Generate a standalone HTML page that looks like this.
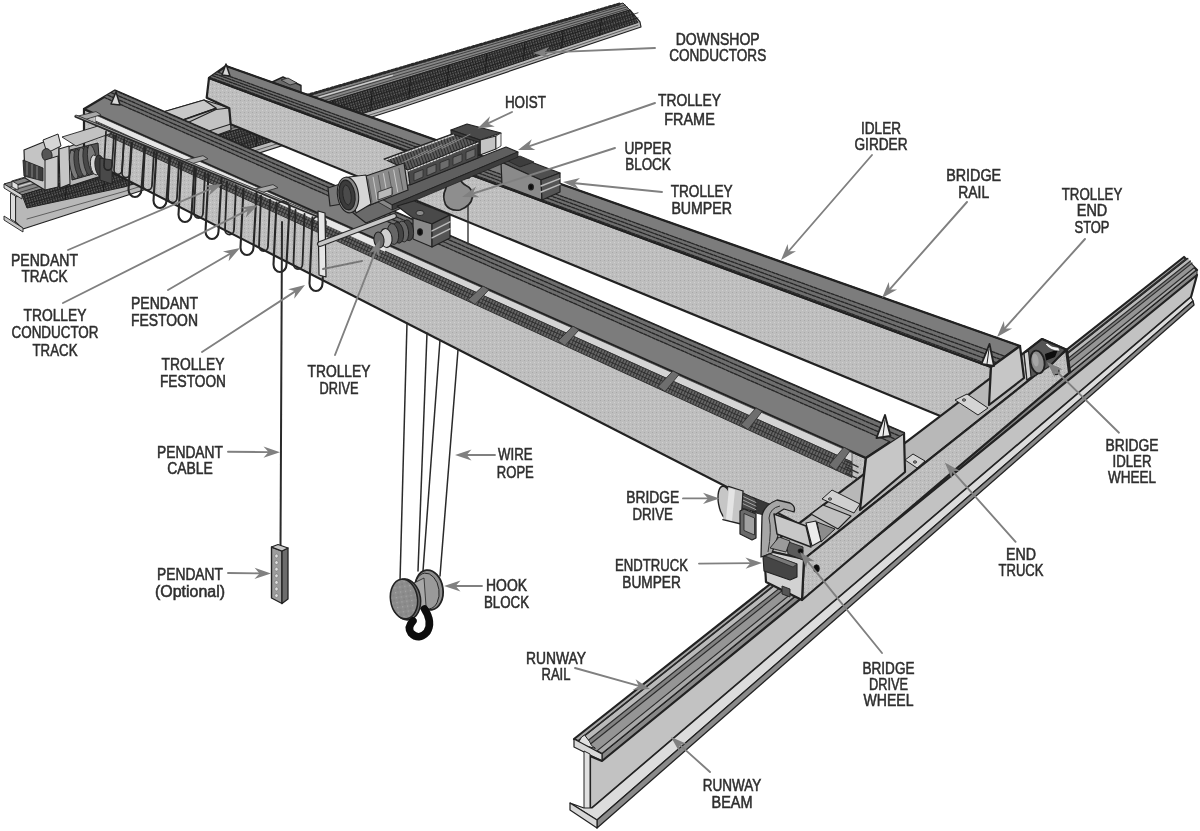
<!DOCTYPE html>
<html><head><meta charset="utf-8"><title>Overhead crane components</title>
<style>
html,body{margin:0;padding:0;background:#fff;}
svg{display:block}
text{font-family:"Liberation Sans",sans-serif;font-size:16.5px;fill:#2e2e2e;stroke:#2e2e2e;stroke-width:0.55px;text-anchor:middle;}
</style></head><body>
<svg width="1200" height="831" viewBox="0 0 1200 831">
<defs>
<pattern id="stip" width="4" height="4" patternUnits="userSpaceOnUse">
<rect width="4" height="4" fill="#bebebe"/><rect x="0" y="0" width="1" height="1" fill="#a8a8a8"/><rect x="2" y="2" width="1" height="1" fill="#d0d0d0"/>
</pattern>
<pattern id="hatch" width="3" height="3" patternUnits="userSpaceOnUse" patternTransform="rotate(25)">
<rect width="3" height="3" fill="#6a6a6a"/><rect x="0" y="0" width="1.2" height="3" fill="#333"/>
</pattern>
<pattern id="hatch2" width="3" height="3" patternUnits="userSpaceOnUse" patternTransform="rotate(-20)">
<rect width="3" height="3" fill="#5c5c5c"/><rect x="0" y="0" width="1" height="3" fill="#2c2c2c"/>
</pattern>
<pattern id="hatch3" width="2.6" height="2.6" patternUnits="userSpaceOnUse" patternTransform="rotate(-16)">
<rect width="2.6" height="2.6" fill="#5e5e5e"/><rect x="0" y="0" width="1.2" height="2.6" fill="#1e1e1e"/><rect x="0" y="0" width="2.6" height="0.9" fill="#2a2a2a"/>
</pattern>
<pattern id="stipd" width="5" height="5" patternUnits="userSpaceOnUse">
<rect width="5" height="5" fill="#8c8c8c"/><rect x="1" y="1" width="1.2" height="1.2" fill="#a8a8a8"/><rect x="3.5" y="3.5" width="1.2" height="1.2" fill="#7a7a7a"/>
</pattern>
<filter id="soft" x="-2%" y="-2%" width="104%" height="104%"><feGaussianBlur stdDeviation="0.75"/></filter>
</defs>
<rect width="1200" height="831" fill="#fff"/>
<g filter="url(#soft)">
<polygon points="22.0,195.0 630.0,10.0 640.0,22.0 641.0,27.0 400.0,108.0 128.0,195.0 23.0,229.0 15.5,222.0 15.5,197.0" fill="#b8b8b8" stroke="#222" stroke-width="1.2" stroke-linejoin="round" />
<polygon points="4.0,184.0 623.0,3.0 630.0,10.0 22.0,195.0" fill="#868686" stroke="#222" stroke-width="1" stroke-linejoin="round" />
<line x1="282.6" y1="102.5" x2="619.9" y2="3.9" stroke="#2a2a2a" stroke-width="3" stroke-linecap="round" stroke-dasharray="2 2.2" stroke-linecap="butt"/>
<line x1="9.4" y1="187.3" x2="625.1" y2="5.1" stroke="#3a3a3a" stroke-width="0.9" stroke-linecap="round" />
<line x1="13.9" y1="190.1" x2="626.9" y2="6.9" stroke="#3a3a3a" stroke-width="0.9" stroke-linecap="round" />
<line x1="18.4" y1="192.8" x2="628.6" y2="8.6" stroke="#3a3a3a" stroke-width="0.9" stroke-linecap="round" />
<line x1="11.6" y1="188.6" x2="392.5" y2="75.4" stroke="#d0d0d0" stroke-width="1.2" stroke-linecap="round" />
<polygon points="22.0,195.0 630.0,10.0 638.0,22.5 400.0,102.0 124.0,187.0 27.0,208.0" fill="url(#hatch3)" stroke="#222" stroke-width="1" stroke-linejoin="round" />
<polyline points="27.0,198.6 42.3,194.4 57.5,190.2 72.8,186.0 88.1,181.8 103.4,177.7 118.6,173.5 133.9,169.0 149.2,164.3 164.5,159.7 179.8,155.0 195.0,150.3 210.3,145.7 225.6,141.0 240.8,136.3 256.1,131.7 271.4,127.0 286.7,122.3 301.9,117.7 317.2,113.0 332.5,108.3 347.8,103.6 363.1,99.0 378.3,94.3 393.6,89.6 408.9,84.9 424.2,80.1 439.4,75.3 454.7,70.5 470.0,65.7 485.2,60.9 500.5,56.1 515.8,51.2 531.1,46.4 546.4,41.6 561.6,36.8 576.9,32.0 592.2,27.2 607.4,22.4 622.7,17.6 638.0,12.8" fill="none" stroke="#222" stroke-width="0.8" stroke-linejoin="round" stroke-linecap="round" />
<polyline points="27.0,203.6 42.3,199.9 57.5,196.2 72.8,192.5 88.1,188.8 103.4,185.1 118.6,181.4 133.9,177.0 149.2,172.4 164.5,167.7 179.8,163.0 195.0,158.3 210.3,153.6 225.6,148.9 240.8,144.2 256.1,139.5 271.4,134.9 286.7,130.2 301.9,125.5 317.2,120.8 332.5,116.1 347.8,111.4 363.1,106.7 378.3,102.0 393.6,97.4 408.9,92.5 424.2,87.5 439.4,82.6 454.7,77.6 470.0,72.6 485.2,67.7 500.5,62.7 515.8,57.7 531.1,52.8 546.4,47.8 561.6,42.8 576.9,37.9 592.2,32.9 607.4,28.0 622.7,23.0 638.0,18.0" fill="none" stroke="#222" stroke-width="0.8" stroke-linejoin="round" stroke-linecap="round" />
<line x1="66.7" y1="181.9" x2="65.2" y2="199.7" stroke="#1c1c1c" stroke-width="1.0" stroke-linecap="round" />
<line x1="104.9" y1="170.2" x2="103.4" y2="191.5" stroke="#1c1c1c" stroke-width="1.0" stroke-linecap="round" />
<line x1="143.1" y1="158.6" x2="141.6" y2="181.6" stroke="#1c1c1c" stroke-width="1.0" stroke-linecap="round" />
<line x1="181.2" y1="147.0" x2="179.8" y2="169.8" stroke="#1c1c1c" stroke-width="1.0" stroke-linecap="round" />
<line x1="219.4" y1="135.4" x2="217.9" y2="158.1" stroke="#1c1c1c" stroke-width="1.0" stroke-linecap="round" />
<line x1="257.6" y1="123.8" x2="256.1" y2="146.3" stroke="#1c1c1c" stroke-width="1.0" stroke-linecap="round" />
<line x1="295.8" y1="112.1" x2="294.3" y2="134.5" stroke="#1c1c1c" stroke-width="1.0" stroke-linecap="round" />
<line x1="334.0" y1="100.5" x2="332.5" y2="122.8" stroke="#1c1c1c" stroke-width="1.0" stroke-linecap="round" />
<line x1="372.2" y1="88.9" x2="370.7" y2="111.0" stroke="#1c1c1c" stroke-width="1.0" stroke-linecap="round" />
<line x1="410.4" y1="77.3" x2="408.9" y2="99.0" stroke="#1c1c1c" stroke-width="1.0" stroke-linecap="round" />
<line x1="448.6" y1="65.7" x2="447.1" y2="86.3" stroke="#1c1c1c" stroke-width="1.0" stroke-linecap="round" />
<line x1="486.8" y1="54.0" x2="485.2" y2="73.5" stroke="#1c1c1c" stroke-width="1.0" stroke-linecap="round" />
<line x1="524.9" y1="42.4" x2="523.4" y2="60.8" stroke="#1c1c1c" stroke-width="1.0" stroke-linecap="round" />
<line x1="563.1" y1="30.8" x2="561.6" y2="48.0" stroke="#1c1c1c" stroke-width="1.0" stroke-linecap="round" />
<line x1="601.3" y1="19.2" x2="599.8" y2="35.3" stroke="#1c1c1c" stroke-width="1.0" stroke-linecap="round" />
<polyline points="27.0,219.0 124.0,191.5 400.0,105.5 638.0,25.2" fill="none" stroke="#555" stroke-width="0.9" stroke-linejoin="round" stroke-linecap="round" />
<polygon points="4.0,184.0 22.0,195.0 22.0,199.0 4.0,188.0" fill="#d4d4d4" stroke="#222" stroke-width="0.9" stroke-linejoin="round" />
<polygon points="10.5,193.0 15.5,196.0 15.5,222.0 10.5,219.0" fill="#dcdcdc" stroke="#222" stroke-width="0.9" stroke-linejoin="round" />
<polygon points="4.0,216.0 23.0,228.0 23.0,232.0 4.0,220.0" fill="#c8c8c8" stroke="#222" stroke-width="0.9" stroke-linejoin="round" />
<polygon points="12.0,181.0 18.0,184.5 18.0,190.0 12.0,187.0" fill="#e0e0e0" stroke="#222" stroke-width="0.8" stroke-linejoin="round" />
<line x1="12.0" y1="181.0" x2="30.0" y2="175.5" stroke="#222" stroke-width="0.9" stroke-linecap="round" />
<line x1="18.0" y1="184.5" x2="36.0" y2="179.0" stroke="#222" stroke-width="0.9" stroke-linecap="round" />
<polygon points="60.0,150.0 163.0,112.0 204.0,100.0 230.0,108.0 231.0,130.0 120.0,170.0 70.0,186.0" fill="#b9b9b9" stroke="#222" stroke-width="1.3" stroke-linejoin="round" />
<polygon points="163.0,112.0 204.0,100.0 216.0,108.0 180.0,121.0" fill="#c8c8c8" stroke="#222" stroke-width="1.2" stroke-linejoin="round" />
<polygon points="187.0,123.0 216.0,109.5 229.0,108.0 231.0,124.0 209.0,131.0" fill="#c2c2c2" stroke="#222" stroke-width="1.2" stroke-linejoin="round" />
<line x1="180.0" y1="121.0" x2="216.0" y2="108.5" stroke="#222" stroke-width="1.6" stroke-linecap="round" />
<polygon points="209.0,78.0 991.0,367.0 989.0,405.0 960.0,424.0 933.0,413.0 230.7,124.3 229.3,108.3 206.7,97.7" fill="url(#stip)" stroke="#222" stroke-width="2.2" stroke-linejoin="round" />
<polygon points="84.0,109.0 866.0,458.0 859.0,510.0 822.0,535.7 84.0,158.1" fill="url(#stip)" stroke="#222" stroke-width="2.2" stroke-linejoin="round" />
<polygon points="574.0,739.0 602.0,754.0 1197.0,270.0 1184.0,257.0" fill="#a8a8a8" stroke="#222" stroke-width="2.2" stroke-linejoin="round" />
<polygon points="602.0,754.0 602.0,761.0 1197.0,275.0 1197.0,270.0" fill="#888" stroke="#222" stroke-width="1" stroke-linejoin="round" />
<polygon points="577.6,741.0 1185.7,258.7 1194.5,267.5 596.7,751.1" fill="#959595" stroke="none" stroke-width="0" stroke-linejoin="round" />
<polygon points="581.6,738.0 1187.5,258.5 1192.1,263.1 591.4,743.3" fill="#828282" stroke="none" stroke-width="0" stroke-linejoin="round" />
<polygon points="582.4,737.5 1187.9,258.4 1190.5,261.0 588.0,740.5" fill="#bababa" stroke="none" stroke-width="0" stroke-linejoin="round" />
<line x1="577.6" y1="741.0" x2="1185.7" y2="258.7" stroke="#2c2c2c" stroke-width="1.2" stroke-linecap="round" />
<line x1="581.6" y1="738.0" x2="1187.5" y2="258.5" stroke="#2c2c2c" stroke-width="1.2" stroke-linecap="round" />
<line x1="582.4" y1="737.5" x2="1187.9" y2="258.4" stroke="#2c2c2c" stroke-width="1.2" stroke-linecap="round" />
<line x1="588.0" y1="740.5" x2="1190.5" y2="261.0" stroke="#2c2c2c" stroke-width="1.2" stroke-linecap="round" />
<line x1="591.4" y1="743.3" x2="1192.1" y2="263.1" stroke="#2c2c2c" stroke-width="1.2" stroke-linecap="round" />
<line x1="596.7" y1="751.1" x2="1194.5" y2="267.5" stroke="#2c2c2c" stroke-width="1.2" stroke-linecap="round" />
<polygon points="581.6,737.0 584.6,735.0 589.4,741.3 591.4,745.3 595.4,748.3 577.6,744.0" fill="#e2e2e2" stroke="#222" stroke-width="1" stroke-linejoin="round" />
<polygon points="574.0,739.0 602.0,754.0 602.0,761.0 574.0,747.0" fill="#d8d8d8" stroke="#222" stroke-width="1.2" stroke-linejoin="round" />
<polygon points="590.0,756.0 602.0,761.0 1197.0,275.0 1191.0,297.0 592.0,808.0 590.0,808.0" fill="#c2c2c2" stroke="#222" stroke-width="2.2" stroke-linejoin="round" />
<polygon points="584.0,751.0 590.0,754.0 590.0,812.0 584.0,808.0" fill="#e0e0e0" stroke="#222" stroke-width="1" stroke-linejoin="round" />
<polygon points="570.0,803.0 584.0,808.0 592.0,808.0 1191.0,297.0 1193.0,301.0 597.0,820.0" fill="#dcdcdc" stroke="#222" stroke-width="1.2" stroke-linejoin="round" />
<polygon points="597.0,820.0 1193.0,301.0 1194.0,305.0 597.0,828.0" fill="#8a8a8a" stroke="#222" stroke-width="1.3" stroke-linejoin="round" />
<polygon points="570.0,803.0 597.0,820.0 597.0,828.0 570.0,810.0" fill="#d8d8d8" stroke="#222" stroke-width="1.2" stroke-linejoin="round" />
<polygon points="764.0,550.0 804.0,559.0 1067.0,350.0 1042.0,339.0" fill="#b8b8b8" stroke="#222" stroke-width="2.2" stroke-linejoin="round" />
<polygon points="804.0,559.0 1067.0,350.0 1070.0,372.0 802.0,600.0" fill="url(#stip)" stroke="#222" stroke-width="2.2" stroke-linejoin="round" />
<polygon points="764.0,550.0 804.0,559.0 802.0,600.0 766.0,582.0" fill="#d2d2d2" stroke="#222" stroke-width="2.2" stroke-linejoin="round" />
<polygon points="955.0,400.0 967.0,394.0 988.0,408.0 978.0,415.0" fill="#d4d4d4" stroke="#222" stroke-width="1" stroke-linejoin="round" />
<ellipse cx="964" cy="400" rx="1.6" ry="1.2" fill="#999" stroke="#222" stroke-width="0.8" transform="rotate(0 964 400)"/>
<polygon points="822.0,499.0 832.0,490.0 860.0,504.0 854.0,513.0" fill="#d0d0d0" stroke="#222" stroke-width="1" stroke-linejoin="round" />
<ellipse cx="830" cy="499" rx="1.6" ry="1.2" fill="#999" stroke="#222" stroke-width="0.8" transform="rotate(0 830 499)"/>
<polygon points="905.0,460.0 913.0,454.0 925.0,461.0 917.0,468.0" fill="#d4d4d4" stroke="#222" stroke-width="1" stroke-linejoin="round" />
<ellipse cx="915" cy="462" rx="1.6" ry="1.2" fill="#999" stroke="#222" stroke-width="0.8" transform="rotate(0 915 462)"/>
<polygon points="1024.0,353.0 1042.0,339.0 1066.0,349.5 1050.0,366.0 1036.0,375.0 1027.0,380.0" fill="#555" stroke="#222" stroke-width="1.2" stroke-linejoin="round" />
<polygon points="1024.0,353.0 1028.5,351.0 1031.0,377.0 1027.0,380.0" fill="#d4d4d4" stroke="#222" stroke-width="1.1" stroke-linejoin="round" />
<ellipse cx="1037.5" cy="362" rx="7" ry="11.5" fill="#8e8e8e" stroke="#222" stroke-width="1.9" transform="rotate(-10 1037.5 362)"/>
<ellipse cx="1035.5" cy="360" rx="3" ry="6.5" fill="#a6a6a6" stroke="none" stroke-width="0" transform="rotate(-10 1035.5 360)"/>
<polygon points="1045.0,354.0 1058.0,349.5 1055.0,357.0 1046.0,360.5" fill="#080808" stroke="none" stroke-width="0" stroke-linejoin="round" />
<path d="M1045.5,344.5 Q1051,351.5 1060,351 L1058.5,347.5 Q1051,347 1047,343 Z" fill="#f2f2f2" stroke="#333" stroke-width="0.6"/>
<polyline points="1024.0,353.0 1042.0,339.0 1066.0,349.5 1069.0,373.0" fill="none" stroke="#222" stroke-width="2" stroke-linejoin="round" stroke-linecap="round" />
<line x1="1050.0" y1="366.0" x2="1066.0" y2="349.5" stroke="#222" stroke-width="1.8" stroke-linecap="round" />
<ellipse cx="1056" cy="371" rx="3" ry="3.6" fill="#8a8a8a" stroke="#222" stroke-width="1.2" transform="rotate(0 1056 371)"/>
<line x1="1054.5" y1="369.5" x2="1057.5" y2="372.5" stroke="#222" stroke-width="0.9" stroke-linecap="round" />
<polygon points="270.0,83.0 283.0,77.0 301.0,85.5 301.0,92.0 272.0,88.0" fill="#6a6a6a" stroke="#222" stroke-width="1.4" stroke-linejoin="round" />
<polygon points="281.0,80.0 288.0,78.0 297.0,83.0 290.0,85.0" fill="#8a8a8a" stroke="#222" stroke-width="0.8" stroke-linejoin="round" />
<polygon points="209.0,78.0 226.0,66.0 1020.0,346.0 991.0,367.0" fill="#7b7b7b" stroke="#222" stroke-width="2.2" stroke-linejoin="round" />
<polygon points="209.7,77.5 992.2,366.2 1005.5,356.5 217.5,72.0" fill="#6e6e6e" stroke="none" stroke-width="0" stroke-linejoin="round" />
<line x1="209.8" y1="77.4" x2="992.5" y2="365.9" stroke="#262626" stroke-width="1.3" stroke-linecap="round" stroke-dasharray="3.2 1.3"/>
<line x1="212.4" y1="75.6" x2="996.8" y2="362.8" stroke="#262626" stroke-width="1.3" stroke-linecap="round" stroke-dasharray="3.2 1.3"/>
<line x1="214.9" y1="73.8" x2="1001.1" y2="359.6" stroke="#262626" stroke-width="1.3" stroke-linecap="round" stroke-dasharray="3.2 1.3"/>
<line x1="217.5" y1="72.0" x2="1005.5" y2="356.5" stroke="#262626" stroke-width="1.3" stroke-linecap="round" stroke-dasharray="3.2 1.3"/>
<line x1="226.0" y1="66.0" x2="1020.0" y2="346.0" stroke="#222" stroke-width="1.5" stroke-linecap="round" stroke-dasharray="4 1.5"/>
<polygon points="991.0,367.0 1020.0,346.0 1024.0,378.0 989.0,405.0" fill="#c6c6c6" stroke="#222" stroke-width="2.2" stroke-linejoin="round" />
<polygon points="989.5,344.0 981.5,364.0 994.0,366.0" fill="#ececec" stroke="#222" stroke-width="1.9" stroke-linejoin="round" />
<line x1="989.0" y1="349.0" x2="987.0" y2="364.0" stroke="#222" stroke-width="1" stroke-linecap="round" />
<polygon points="226.0,64.0 222.0,75.0 230.0,76.0" fill="#d8d8d8" stroke="#222" stroke-width="1.5" stroke-linejoin="round" />
<polygon points="84.0,109.0 115.0,90.5 904.0,433.0 866.0,458.0" fill="#7b7b7b" stroke="#222" stroke-width="2.2" stroke-linejoin="round" />
<polygon points="866.0,458.0 904.0,433.0 905.0,472.0 860.0,510.0" fill="#c6c6c6" stroke="#222" stroke-width="2.2" stroke-linejoin="round" />
<polygon points="115.0,90.5 904.0,433.0 890.3,442.0 103.8,97.2" fill="#6e6e6e" stroke="none" stroke-width="0" stroke-linejoin="round" />
<line x1="115.0" y1="90.5" x2="904.0" y2="433.0" stroke="#262626" stroke-width="1.3" stroke-linecap="round" stroke-dasharray="3.2 1.3"/>
<line x1="111.3" y1="92.7" x2="899.4" y2="436.0" stroke="#262626" stroke-width="1.3" stroke-linecap="round" stroke-dasharray="3.2 1.3"/>
<line x1="107.6" y1="95.0" x2="894.9" y2="439.0" stroke="#262626" stroke-width="1.3" stroke-linecap="round" stroke-dasharray="3.2 1.3"/>
<line x1="103.8" y1="97.2" x2="890.3" y2="442.0" stroke="#262626" stroke-width="1.3" stroke-linecap="round" stroke-dasharray="3.2 1.3"/>
<polygon points="885.0,415.0 876.5,438.0 890.5,436.0" fill="#ececec" stroke="#222" stroke-width="1.9" stroke-linejoin="round" />
<line x1="885.0" y1="420.0" x2="883.0" y2="436.0" stroke="#222" stroke-width="1" stroke-linecap="round" />
<polygon points="116.0,92.0 111.0,104.0 120.0,105.0" fill="#d8d8d8" stroke="#222" stroke-width="1.5" stroke-linejoin="round" />
<polygon points="96.0,115.3 852.0,452.8 852.0,462.0 96.0,120.8" fill="#d4d4d4" stroke="#444" stroke-width="0.8" stroke-linejoin="round" />
<polygon points="96.0,120.8 852.0,462.0 852.0,477.4 96.0,130.5" fill="url(#hatch)" stroke="#333" stroke-width="1.0" stroke-linejoin="round" />
<line x1="96.0" y1="124.0" x2="852.0" y2="467.1" stroke="#2a2a2a" stroke-width="0.9" stroke-linecap="round" />
<line x1="96.0" y1="127.2" x2="852.0" y2="472.2" stroke="#2a2a2a" stroke-width="0.9" stroke-linecap="round" />
<polygon points="96.0,115.8 385.0,244.8 385.0,251.8 96.0,120.8" fill="#e6e6e6" stroke="none" stroke-width="0" stroke-linejoin="round" />
<polygon points="483.0,286.1 489.0,289.7 475.0,304.5 468.0,299.7" fill="#6e6e6e" stroke="#333" stroke-width="0.9" stroke-linejoin="round" />
<polygon points="573.0,326.2 579.0,329.9 565.0,345.7 558.0,340.9" fill="#6e6e6e" stroke="#333" stroke-width="0.9" stroke-linejoin="round" />
<polygon points="673.0,370.9 679.0,374.5 665.0,391.6 658.0,386.6" fill="#6e6e6e" stroke="#333" stroke-width="0.9" stroke-linejoin="round" />
<polygon points="756.0,407.9 762.0,411.6 748.0,429.7 741.0,424.6" fill="#6e6e6e" stroke="#333" stroke-width="0.9" stroke-linejoin="round" />
<polygon points="844.0,447.2 850.0,450.9 836.0,470.1 829.0,464.9" fill="#6e6e6e" stroke="#333" stroke-width="0.9" stroke-linejoin="round" />
<line x1="846.0" y1="461.1" x2="858.0" y2="466.9" stroke="#333" stroke-width="1.6" stroke-linecap="round" />
<line x1="846.0" y1="467.1" x2="858.0" y2="472.9" stroke="#333" stroke-width="1.6" stroke-linecap="round" />
<line x1="846.0" y1="473.1" x2="858.0" y2="478.9" stroke="#333" stroke-width="1.6" stroke-linecap="round" />
<polygon points="62.0,137.0 98.0,126.0 112.0,133.0 76.0,146.0" fill="#c2c2c2" stroke="#222" stroke-width="0.9" stroke-linejoin="round" />
<polygon points="24.0,150.0 46.0,141.0 59.0,147.0 58.0,187.0 45.0,190.0 25.0,178.0" fill="#c4c4c4" stroke="#222" stroke-width="1.2" stroke-linejoin="round" />
<polygon points="23.0,160.0 43.0,168.0 43.0,181.0 24.0,176.0" fill="#3c3c3c" stroke="#222" stroke-width="0.9" stroke-linejoin="round" />
<line x1="27.0" y1="162.5" x2="27.0" y2="175.0" stroke="#888" stroke-width="1" stroke-linecap="round" />
<line x1="32.0" y1="164.5" x2="32.0" y2="177.0" stroke="#888" stroke-width="1" stroke-linecap="round" />
<line x1="37.0" y1="166.5" x2="37.0" y2="179.0" stroke="#888" stroke-width="1" stroke-linecap="round" />
<polygon points="43.0,140.0 58.0,134.0 61.0,146.0 47.0,153.0" fill="#d6d6d6" stroke="#222" stroke-width="1" stroke-linejoin="round" />
<ellipse cx="47" cy="155" rx="5" ry="6.5" fill="#555" stroke="#222" stroke-width="0.9" transform="rotate(-15 47 155)"/>
<polygon points="45.0,160.0 58.0,156.0 58.0,187.0 45.0,190.0" fill="#c9c9c9" stroke="#222" stroke-width="1" stroke-linejoin="round" />
<polygon points="59.0,149.0 69.0,146.0 70.0,184.0 60.0,188.0" fill="#c6c6c6" stroke="#222" stroke-width="1.1" stroke-linejoin="round" />
<polygon points="70.0,150.0 98.0,143.0 100.0,172.0 72.0,180.0" fill="#555" stroke="#222" stroke-width="1" stroke-linejoin="round" />
<ellipse cx="74.0" cy="164.5" rx="4.2" ry="14.5" fill="#7a7a7a" stroke="#222" stroke-width="0.8" transform="rotate(-8 74.0 164.5)"/>
<ellipse cx="78.5" cy="163.2" rx="4.2" ry="14.5" fill="#4a4a4a" stroke="#222" stroke-width="0.8" transform="rotate(-8 78.5 163.2)"/>
<ellipse cx="83.0" cy="161.9" rx="4.2" ry="14.5" fill="#7a7a7a" stroke="#222" stroke-width="0.8" transform="rotate(-8 83.0 161.9)"/>
<ellipse cx="87.5" cy="160.6" rx="4.2" ry="14.5" fill="#4a4a4a" stroke="#222" stroke-width="0.8" transform="rotate(-8 87.5 160.6)"/>
<ellipse cx="92.0" cy="159.3" rx="4.2" ry="14.5" fill="#7a7a7a" stroke="#222" stroke-width="0.8" transform="rotate(-8 92.0 159.3)"/>
<ellipse cx="95" cy="165" rx="4.5" ry="10" fill="#d4d4d4" stroke="#222" stroke-width="0.9" transform="rotate(-8 95 165)"/>
<ellipse cx="100" cy="166" rx="5" ry="11" fill="#3a3a3a" stroke="#222" stroke-width="0.9" transform="rotate(-8 100 166)"/>
<polygon points="100.0,158.0 112.0,160.0 112.0,184.0 100.0,180.0" fill="#4a4a4a" stroke="#222" stroke-width="0.9" stroke-linejoin="round" />
<polygon points="96.0,111.6 101.0,114.7 83.0,120.2 77.0,116.3" fill="#a8a8a8" stroke="#333" stroke-width="0.9" stroke-linejoin="round" />
<polygon points="203.0,155.7 208.0,158.8 190.0,164.4 184.0,160.4" fill="#a8a8a8" stroke="#333" stroke-width="0.9" stroke-linejoin="round" />
<polygon points="273.0,184.6 278.0,187.7 260.0,193.2 254.0,189.3" fill="#a8a8a8" stroke="#333" stroke-width="0.9" stroke-linejoin="round" />
<line x1="76.0" y1="116.3" x2="322.0" y2="217.8" stroke="#2a2a2a" stroke-width="3.2" stroke-linecap="round" />
<line x1="76.0" y1="115.8" x2="322.0" y2="217.2" stroke="#9a9a9a" stroke-width="1.0" stroke-linecap="round" />
<path d="M145.0,147.8 L143.0,185.0 A4.5,5.2 0 0 0 152.0,185.0 L154.0,151.8" fill="none" stroke="#262626" stroke-width="1.8" stroke-linecap="round"/>
<path d="M131.5,142.7 L128.5,189.5 A6.5,7.5 0 0 0 141.5,189.5 L144.5,146.7" fill="none" stroke="#262626" stroke-width="2.1" stroke-linecap="round"/>
<path d="M170.0,158.2 L168.0,197.5 A4.5,5.2 0 0 0 177.0,197.5 L179.0,162.2" fill="none" stroke="#262626" stroke-width="1.8" stroke-linecap="round"/>
<path d="M156.5,153.0 L153.5,200.5 A6.5,7.5 0 0 0 166.5,200.5 L169.5,157.0" fill="none" stroke="#262626" stroke-width="2.1" stroke-linecap="round"/>
<path d="M196.0,168.9 L194.0,213.0 A4.5,5.2 0 0 0 203.0,213.0 L205.0,172.9" fill="none" stroke="#262626" stroke-width="1.8" stroke-linecap="round"/>
<path d="M181.5,163.3 L178.5,214.5 A6.5,7.5 0 0 0 191.5,214.5 L194.5,167.3" fill="none" stroke="#262626" stroke-width="2.1" stroke-linecap="round"/>
<path d="M227.0,181.7 L225.0,229.5 A4.5,5.2 0 0 0 234.0,229.5 L236.0,185.7" fill="none" stroke="#262626" stroke-width="1.8" stroke-linecap="round"/>
<path d="M208.5,174.4 L205.5,231.5 A6.5,7.5 0 0 0 218.5,231.5 L221.5,178.4" fill="none" stroke="#262626" stroke-width="2.1" stroke-linecap="round"/>
<path d="M261.0,195.7 L259.0,246.0 A4.5,5.2 0 0 0 268.0,246.0 L270.0,199.7" fill="none" stroke="#262626" stroke-width="1.8" stroke-linecap="round"/>
<path d="M243.5,188.9 L240.5,247.5 A6.5,7.5 0 0 0 253.5,247.5 L256.5,192.9" fill="none" stroke="#262626" stroke-width="2.1" stroke-linecap="round"/>
<path d="M295.5,209.9 L293.5,264.0 A4.5,5.2 0 0 0 302.5,264.0 L304.5,213.9" fill="none" stroke="#262626" stroke-width="1.8" stroke-linecap="round"/>
<path d="M276.5,202.5 L273.5,264.5 A6.5,7.5 0 0 0 286.5,264.5 L289.5,206.5" fill="none" stroke="#262626" stroke-width="2.1" stroke-linecap="round"/>
<path d="M312.5,217.3 L309.5,283.5 A6.5,7.5 0 0 0 322.5,283.5 L325.5,221.3" fill="none" stroke="#262626" stroke-width="2.1" stroke-linecap="round"/>
<path d="M106.0,131.6 L104.0,165.6 A4.0,4.6 0 0 0 112.0,165.6 L114.0,135.6" fill="none" stroke="#262626" stroke-width="1.7" stroke-linecap="round"/>
<path d="M116.0,135.7 L114.0,169.7 A4.0,4.6 0 0 0 122.0,169.7 L124.0,139.7" fill="none" stroke="#262626" stroke-width="1.7" stroke-linecap="round"/>
<path d="M124.0,139.0 L122.0,173.0 A4.0,4.6 0 0 0 130.0,173.0 L132.0,143.0" fill="none" stroke="#262626" stroke-width="1.7" stroke-linecap="round"/>
<path d="M276.5,206.5 A6.5,6.5 0 0 1 289.5,209.5" fill="none" stroke="#2a2a2a" stroke-width="1.7"/>
<path d="M312.5,221.3 A6.5,6.5 0 0 1 325.5,224.3" fill="none" stroke="#2a2a2a" stroke-width="1.7"/>
<polygon points="318.0,211.0 325.0,213.0 326.0,277.0 319.0,275.0" fill="#e6e6e6" stroke="#222" stroke-width="1.2" stroke-linejoin="round" />
<line x1="323.0" y1="269.0" x2="362.0" y2="261.0" stroke="#777" stroke-width="2.0" stroke-linecap="round" stroke-dasharray="2 1"/>
<line x1="282.0" y1="222.0" x2="280.5" y2="548.0" stroke="#2a2a2a" stroke-width="2" stroke-linecap="round" />
<line x1="468.0" y1="190.0" x2="468.0" y2="244.0" stroke="#333" stroke-width="1.4" stroke-linecap="round" />
<polygon points="501.0,162.0 518.0,157.0 560.0,173.0 541.0,180.0" fill="#505050" stroke="#222" stroke-width="1.2" stroke-linejoin="round" />
<polygon points="501.0,162.0 541.0,180.0 542.0,200.0 502.0,185.0" fill="#8a8a8a" stroke="#222" stroke-width="1.2" stroke-linejoin="round" />
<polygon points="541.0,180.0 560.0,173.0 560.0,192.0 542.0,200.0" fill="#555" stroke="#222" stroke-width="1.2" stroke-linejoin="round" />
<line x1="541.0" y1="186.0" x2="560.0" y2="178.7" stroke="#bbb" stroke-width="1.4" stroke-linecap="round" />
<line x1="541.0" y1="192.0" x2="560.0" y2="184.4" stroke="#bbb" stroke-width="1.4" stroke-linecap="round" />
<ellipse cx="531" cy="187" rx="2.4" ry="3" fill="#111" stroke="#222" stroke-width="1.1" transform="rotate(0 531 187)"/>
<polygon points="506.0,160.0 520.0,156.0 534.0,162.0 520.0,167.0" fill="#3c3c3c" stroke="#222" stroke-width="0.8" stroke-linejoin="round" />
<polygon points="446.0,176.0 470.0,172.0 470.0,178.0 446.0,182.0" fill="#444" stroke="#222" stroke-width="0.8" stroke-linejoin="round" />
<path d="M448,181 L459,176.5 Q461,183 466,185.5 Q473,188.5 472.5,197 Q471,206 460,210 Q450,211.5 445.5,204.5 Q442,196 445.5,189.5 Z" fill="#8e8e8e" stroke="#262626" stroke-width="1.7" stroke-linejoin="round"/>
<polygon points="352.0,212.0 386.0,199.0 404.0,207.0 366.0,223.0" fill="#6a6a6a" stroke="#222" stroke-width="1.2" stroke-linejoin="round" />
<polygon points="378.0,197.0 506.0,147.0 518.0,152.0 392.0,205.0" fill="#5e5e5e" stroke="#222" stroke-width="1.2" stroke-linejoin="round" />
<polygon points="392.0,205.0 518.0,152.0 518.0,157.0 392.0,210.0" fill="#3e3e3e" stroke="#222" stroke-width="0.8" stroke-linejoin="round" />
<polygon points="378.0,197.0 392.0,205.0 392.0,210.0 378.0,202.0" fill="#888" stroke="#222" stroke-width="0.8" stroke-linejoin="round" />
<polygon points="451.0,130.0 467.0,124.0 501.0,133.0 480.0,140.0" fill="#484848" stroke="#222" stroke-width="1.2" stroke-linejoin="round" />
<polygon points="480.0,140.0 496.0,136.0 496.0,149.0 480.0,155.0" fill="#c4c4c4" stroke="#222" stroke-width="1.2" stroke-linejoin="round" />
<polygon points="496.0,136.0 501.0,133.0 501.0,146.0 496.0,149.0" fill="#eee" stroke="#222" stroke-width="0.8" stroke-linejoin="round" />
<polygon points="451.0,130.0 480.0,140.0 480.0,155.0 452.0,146.0" fill="#3a3a3a" stroke="#222" stroke-width="1.2" stroke-linejoin="round" />
<polygon points="384.0,159.0 452.0,134.0 478.0,142.0 408.0,170.0" fill="url(#hatch2)" stroke="#222" stroke-width="1.2" stroke-linejoin="round" />
<polygon points="408.0,170.0 478.0,142.0 478.0,158.0 410.0,185.0" fill="#4a4a4a" stroke="#222" stroke-width="1.2" stroke-linejoin="round" />
<polygon points="414.0,173.0 423.0,169.4 423.0,177.0 414.0,181.0" fill="#6c6c6c" stroke="#222" stroke-width="0.7" stroke-linejoin="round" />
<polygon points="427.0,167.8 436.0,164.2 436.0,171.8 427.0,175.8" fill="#6c6c6c" stroke="#222" stroke-width="0.7" stroke-linejoin="round" />
<polygon points="440.0,162.6 449.0,159.0 449.0,166.6 440.0,170.6" fill="#6c6c6c" stroke="#222" stroke-width="0.7" stroke-linejoin="round" />
<polygon points="453.0,157.4 462.0,153.8 462.0,161.4 453.0,165.4" fill="#6c6c6c" stroke="#222" stroke-width="0.7" stroke-linejoin="round" />
<polygon points="466.0,152.2 475.0,148.6 475.0,156.2 466.0,160.2" fill="#6c6c6c" stroke="#222" stroke-width="0.7" stroke-linejoin="round" />
<line x1="386.0" y1="160.0" x2="454.0" y2="135.0" stroke="#ddd" stroke-width="1.2" stroke-linecap="round" stroke-dasharray="2 1.5"/>
<line x1="408.0" y1="171.0" x2="478.0" y2="143.0" stroke="#ddd" stroke-width="1.2" stroke-linecap="round" stroke-dasharray="2 1.5"/>
<line x1="400.0" y1="164.0" x2="428.0" y2="150.0" stroke="#999" stroke-width="0.8" stroke-linecap="round" />
<line x1="414.0" y1="158.8" x2="442.0" y2="144.8" stroke="#999" stroke-width="0.8" stroke-linecap="round" />
<line x1="428.0" y1="153.6" x2="456.0" y2="139.6" stroke="#999" stroke-width="0.8" stroke-linecap="round" />
<line x1="442.0" y1="148.4" x2="470.0" y2="134.4" stroke="#999" stroke-width="0.8" stroke-linecap="round" />
<polygon points="366.0,176.0 404.0,163.0 408.0,190.0 370.0,205.0" fill="#8c8c8c" stroke="#222" stroke-width="1.2" stroke-linejoin="round" />
<line x1="368.0" y1="179.0" x2="372.0" y2="202.0" stroke="#555" stroke-width="0.9" stroke-linecap="round" />
<line x1="373.1" y1="177.2" x2="377.1" y2="200.0" stroke="#d0d0d0" stroke-width="0.9" stroke-linecap="round" />
<line x1="378.3" y1="175.4" x2="382.3" y2="198.0" stroke="#555" stroke-width="0.9" stroke-linecap="round" />
<line x1="383.4" y1="173.6" x2="387.4" y2="196.0" stroke="#d0d0d0" stroke-width="0.9" stroke-linecap="round" />
<line x1="388.6" y1="171.9" x2="392.6" y2="194.0" stroke="#555" stroke-width="0.9" stroke-linecap="round" />
<line x1="393.7" y1="170.1" x2="397.7" y2="192.0" stroke="#d0d0d0" stroke-width="0.9" stroke-linecap="round" />
<line x1="398.9" y1="168.3" x2="402.9" y2="190.0" stroke="#555" stroke-width="0.9" stroke-linecap="round" />
<polygon points="378.0,192.0 392.0,187.0 392.0,195.0 378.0,200.0" fill="#b8b8b8" stroke="#222" stroke-width="0.8" stroke-linejoin="round" />
<polygon points="349.0,177.0 366.0,175.0 371.0,204.0 356.0,213.0" fill="#d6d6d6" stroke="#222" stroke-width="1.2" stroke-linejoin="round" />
<polygon points="328.0,188.0 340.0,184.0 342.0,204.0 330.0,206.0" fill="#777" stroke="#222" stroke-width="1.2" stroke-linejoin="round" />
<ellipse cx="348" cy="195" rx="10.5" ry="18" fill="#8a8a8a" stroke="#222" stroke-width="1.1" transform="rotate(-8 348 195)"/>
<ellipse cx="347" cy="195" rx="8" ry="15" fill="#3a3a3a" stroke="#222" stroke-width="1.1" transform="rotate(-8 347 195)"/>
<ellipse cx="347" cy="195" rx="4" ry="10" fill="#4c4c4c" stroke="#222" stroke-width="0.8" transform="rotate(-8 347 195)"/>
<line x1="320.0" y1="244.0" x2="394.0" y2="216.0" stroke="#2a2a2a" stroke-width="6" stroke-linecap="round" />
<line x1="320.0" y1="244.0" x2="394.0" y2="216.0" stroke="#c8c8c8" stroke-width="3.6" stroke-linecap="round" />
<polygon points="397.0,206.0 414.0,201.0 450.0,215.0 432.0,224.0 413.0,218.0" fill="#484848" stroke="#222" stroke-width="1.2" stroke-linejoin="round" />
<ellipse cx="420" cy="213" rx="4" ry="2.6" fill="#8a8a8a" stroke="#222" stroke-width="0.8" transform="rotate(0 420 213)"/>
<polygon points="413.0,218.0 432.0,224.0 432.0,247.0 413.0,239.0" fill="#8a8a8a" stroke="#222" stroke-width="1.2" stroke-linejoin="round" />
<polygon points="432.0,224.0 450.0,215.0 450.0,238.0 432.0,247.0" fill="#555" stroke="#222" stroke-width="1.2" stroke-linejoin="round" />
<line x1="432.0" y1="230.9" x2="450.0" y2="221.9" stroke="#bbb" stroke-width="1.5" stroke-linecap="round" />
<line x1="432.0" y1="237.8" x2="450.0" y2="228.8" stroke="#bbb" stroke-width="1.5" stroke-linecap="round" />
<ellipse cx="420" cy="232" rx="2.4" ry="3.2" fill="#111" stroke="#222" stroke-width="1.1" transform="rotate(0 420 232)"/>
<ellipse cx="408" cy="230.25" rx="5.5" ry="10.5" fill="#444" stroke="#222" stroke-width="0.9" transform="rotate(-8 408 230.25)"/>
<ellipse cx="403" cy="231.5" rx="5.5" ry="10.5" fill="#666" stroke="#222" stroke-width="0.9" transform="rotate(-8 403 231.5)"/>
<ellipse cx="398" cy="232.75" rx="5.5" ry="10.5" fill="#444" stroke="#222" stroke-width="0.9" transform="rotate(-8 398 232.75)"/>
<ellipse cx="393" cy="234.0" rx="5.5" ry="10.5" fill="#666" stroke="#222" stroke-width="0.9" transform="rotate(-8 393 234.0)"/>
<ellipse cx="386" cy="238" rx="6" ry="9.5" fill="#cfcfcf" stroke="#222" stroke-width="1.1" transform="rotate(-8 386 238)"/>
<ellipse cx="379" cy="240" rx="5" ry="8" fill="#6a6a6a" stroke="#222" stroke-width="1.1" transform="rotate(-8 379 240)"/>
<polygon points="752.0,497.0 772.0,505.0 772.0,517.0 752.0,512.0" fill="#383838" stroke="#222" stroke-width="0.9" stroke-linejoin="round" />
<polygon points="741.0,492.0 756.0,499.0 756.0,512.0 741.0,508.0" fill="#484848" stroke="#222" stroke-width="1" stroke-linejoin="round" />
<line x1="742.0" y1="496.0" x2="756.0" y2="502.5" stroke="#b0b0b0" stroke-width="0.9" stroke-linecap="round" />
<line x1="742.0" y1="499.6" x2="756.0" y2="506.1" stroke="#b0b0b0" stroke-width="0.9" stroke-linecap="round" />
<line x1="742.0" y1="503.2" x2="756.0" y2="509.7" stroke="#b0b0b0" stroke-width="0.9" stroke-linecap="round" />
<ellipse cx="725.5" cy="503" rx="7" ry="17" fill="#c6c6c6" stroke="#222" stroke-width="1.4" transform="rotate(-10 725.5 503)"/>
<polygon points="728.5,486.3 743.0,491.0 741.0,524.0 722.8,519.6" fill="#c6c6c6" stroke="none" stroke-width="0" stroke-linejoin="round" />
<line x1="728.5" y1="486.3" x2="743.0" y2="491.0" stroke="#222" stroke-width="1.3" stroke-linecap="round" />
<line x1="741.0" y1="524.0" x2="722.8" y2="519.6" stroke="#222" stroke-width="1.3" stroke-linecap="round" />
<line x1="743.0" y1="491.0" x2="741.0" y2="524.0" stroke="#222" stroke-width="1.2" stroke-linecap="round" />
<polygon points="729.0,488.0 735.0,490.0 732.0,521.0 726.0,519.0" fill="#e4e4e4" stroke="none" stroke-width="0" stroke-linejoin="round" />
<polygon points="740.0,511.0 744.0,509.0 756.0,514.0 756.0,538.0 752.0,540.0 740.0,534.0" fill="#6a6a6a" stroke="#222" stroke-width="1.2" stroke-linejoin="round" />
<polygon points="744.0,513.5 754.5,518.0 754.5,535.0 744.0,530.5" fill="#a2a2a2" stroke="#222" stroke-width="0.8" stroke-linejoin="round" />
<polygon points="811.0,514.0 823.0,505.0 851.0,516.0 838.0,529.0" fill="#c0c0c0" stroke="#222" stroke-width="1.1" stroke-linejoin="round" />
<polygon points="817.0,522.0 835.0,529.0 821.0,542.0" fill="#8c8c8c" stroke="#222" stroke-width="1" stroke-linejoin="round" />
<polygon points="786.0,541.0 803.0,547.0 803.0,560.0 788.0,554.0" fill="#5a5a5a" stroke="#222" stroke-width="0.9" stroke-linejoin="round" />
<ellipse cx="800.5" cy="551" rx="2.6" ry="2.2" fill="#111" stroke="#222" stroke-width="0.6" transform="rotate(0 800.5 551)"/>
<path d="M761,557 L762,516 Q764,505 777,500 L790,503 Q796,506 794,512 L784,509 L776,514 L778,536 L772,553 Z" fill="#a6a6a6" stroke="#222" stroke-width="1.3" stroke-linejoin="round"/>
<path d="M768,552 Q772,530 769,518 Q770,508 780,506" fill="none" stroke="#333" stroke-width="1"/>
<polygon points="806.0,523.0 816.0,521.0 821.0,541.0 812.0,546.0" fill="#ececec" stroke="#222" stroke-width="1.1" stroke-linejoin="round" />
<polygon points="774.0,514.0 806.0,526.0 811.0,547.0 777.0,534.0" fill="#c8c8c8" stroke="#222" stroke-width="1.5" stroke-linejoin="round" />
<polygon points="770.0,548.0 779.0,537.0 790.0,541.0 786.0,552.0" fill="#9a9a9a" stroke="#222" stroke-width="0.9" stroke-linejoin="round" />
<polygon points="763.0,557.0 769.0,554.0 797.0,564.0 797.0,577.0 790.0,580.0 764.0,571.0" fill="#454545" stroke="#222" stroke-width="1.1" stroke-linejoin="round" />
<polygon points="765.0,556.0 770.0,554.0 797.0,564.0 793.0,567.0" fill="#7a7a7a" stroke="#222" stroke-width="0.7" stroke-linejoin="round" />
<polygon points="782.0,586.0 790.0,589.0 790.0,597.0 782.0,594.0" fill="#555" stroke="#222" stroke-width="0.9" stroke-linejoin="round" />
<ellipse cx="816.5" cy="568.5" rx="2.9" ry="3.8" fill="#0c0c0c" stroke="#222" stroke-width="0.8" transform="rotate(0 816.5 568.5)"/>
<line x1="407.0" y1="323.0" x2="400.0" y2="581.0" stroke="#2a2a2a" stroke-width="1.5" stroke-linecap="round" />
<line x1="427.0" y1="333.0" x2="418.0" y2="571.0" stroke="#2a2a2a" stroke-width="1.5" stroke-linecap="round" />
<line x1="440.0" y1="340.0" x2="423.0" y2="571.0" stroke="#2a2a2a" stroke-width="1.5" stroke-linecap="round" />
<line x1="458.0" y1="350.0" x2="440.0" y2="576.0" stroke="#2a2a2a" stroke-width="1.5" stroke-linecap="round" />
<ellipse cx="429" cy="590" rx="14" ry="20" fill="#8c8c8c" stroke="#222" stroke-width="1.8" transform="rotate(-8 429 590)"/>
<ellipse cx="427" cy="591" rx="12" ry="18" fill="#9a9a9a" stroke="#222" stroke-width="0.9" transform="rotate(-8 427 591)"/>
<polygon points="412.0,584.0 424.0,578.0 426.0,606.0 414.0,612.0" fill="#a8a8a8" stroke="#222" stroke-width="0.8" stroke-linejoin="round" />
<ellipse cx="406" cy="599.5" rx="14.5" ry="20.5" fill="#6e6e6e" stroke="#222" stroke-width="1.6" transform="rotate(-8 406 599.5)"/>
<ellipse cx="404" cy="599" rx="13.5" ry="20" fill="url(#stipd)" stroke="#222" stroke-width="1.6" transform="rotate(-8 404 599)"/>
<path d="M424.5,609 Q433,622 427,632 Q419,641 411,633 Q407,627 413,621" fill="none" stroke="#0a0a0a" stroke-width="7.5" stroke-linecap="round"/>
<polygon points="271.5,547.0 282.0,551.0 282.0,603.5 271.5,598.0" fill="#9c9c9c" stroke="#222" stroke-width="1.4" stroke-linejoin="round" />
<polygon points="282.0,551.0 288.0,548.0 288.0,599.0 282.0,603.5" fill="#6c6c6c" stroke="#222" stroke-width="1.3" stroke-linejoin="round" />
<polygon points="271.5,547.0 278.0,544.5 288.0,548.0 282.0,551.0" fill="#c8c8c8" stroke="#222" stroke-width="1.1" stroke-linejoin="round" />
<ellipse cx="276.5" cy="556.0" rx="1.7" ry="1.9" fill="#e0e0e0" stroke="#666" stroke-width="0.5" transform="rotate(0 276.5 556.0)"/>
<ellipse cx="276.5" cy="562.6" rx="1.7" ry="1.9" fill="#e0e0e0" stroke="#666" stroke-width="0.5" transform="rotate(0 276.5 562.6)"/>
<ellipse cx="276.5" cy="569.2" rx="1.7" ry="1.9" fill="#e0e0e0" stroke="#666" stroke-width="0.5" transform="rotate(0 276.5 569.2)"/>
<ellipse cx="276.5" cy="575.8" rx="1.7" ry="1.9" fill="#e0e0e0" stroke="#666" stroke-width="0.5" transform="rotate(0 276.5 575.8)"/>
<ellipse cx="276.5" cy="582.4" rx="1.7" ry="1.9" fill="#e0e0e0" stroke="#666" stroke-width="0.5" transform="rotate(0 276.5 582.4)"/>
<ellipse cx="276.5" cy="589.0" rx="1.7" ry="1.9" fill="#e0e0e0" stroke="#666" stroke-width="0.5" transform="rotate(0 276.5 589.0)"/>
<ellipse cx="276.5" cy="595.6" rx="1.7" ry="1.9" fill="#e0e0e0" stroke="#666" stroke-width="0.5" transform="rotate(0 276.5 595.6)"/>
<text x="717.7" y="44.5" textLength="84" lengthAdjust="spacingAndGlyphs">DOWNSHOP</text>
<text x="717.7" y="61.0" textLength="97" lengthAdjust="spacingAndGlyphs">CONDUCTORS</text>
<text x="525.4" y="107.6" textLength="41" lengthAdjust="spacingAndGlyphs">HOIST</text>
<text x="689.5" y="106.3" textLength="63" lengthAdjust="spacingAndGlyphs">TROLLEY</text>
<text x="689.5" y="124.8" textLength="50.5" lengthAdjust="spacingAndGlyphs">FRAME</text>
<text x="648" y="153.8" textLength="47" lengthAdjust="spacingAndGlyphs">UPPER</text>
<text x="648" y="170.4" textLength="45.5" lengthAdjust="spacingAndGlyphs">BLOCK</text>
<text x="701.7" y="197.3" textLength="62" lengthAdjust="spacingAndGlyphs">TROLLEY</text>
<text x="701.7" y="213.9" textLength="60.5" lengthAdjust="spacingAndGlyphs">BUMPER</text>
<text x="881" y="133.7" textLength="40" lengthAdjust="spacingAndGlyphs">IDLER</text>
<text x="881" y="150.1" textLength="53" lengthAdjust="spacingAndGlyphs">GIRDER</text>
<text x="973.7" y="181.2" textLength="55" lengthAdjust="spacingAndGlyphs">BRIDGE</text>
<text x="973.7" y="198.0" textLength="31" lengthAdjust="spacingAndGlyphs">RAIL</text>
<text x="1092" y="199.5" textLength="60.5" lengthAdjust="spacingAndGlyphs">TROLLEY</text>
<text x="1092" y="216.3" textLength="30.5" lengthAdjust="spacingAndGlyphs">END</text>
<text x="1092" y="233.1" textLength="35" lengthAdjust="spacingAndGlyphs">STOP</text>
<text x="44.5" y="266.0" textLength="67" lengthAdjust="spacingAndGlyphs">PENDANT</text>
<text x="44.5" y="282.4" textLength="46" lengthAdjust="spacingAndGlyphs">TRACK</text>
<text x="55" y="320.5" textLength="63" lengthAdjust="spacingAndGlyphs">TROLLEY</text>
<text x="55" y="338.2" textLength="87" lengthAdjust="spacingAndGlyphs">CONDUCTOR</text>
<text x="55" y="355.9" textLength="45" lengthAdjust="spacingAndGlyphs">TRACK</text>
<text x="164.5" y="309.0" textLength="67" lengthAdjust="spacingAndGlyphs">PENDANT</text>
<text x="164.5" y="326.0" textLength="67" lengthAdjust="spacingAndGlyphs">FESTOON</text>
<text x="193" y="370.0" textLength="63" lengthAdjust="spacingAndGlyphs">TROLLEY</text>
<text x="193" y="387.0" textLength="66" lengthAdjust="spacingAndGlyphs">FESTOON</text>
<text x="339" y="377.0" textLength="63" lengthAdjust="spacingAndGlyphs">TROLLEY</text>
<text x="339" y="393.8" textLength="39" lengthAdjust="spacingAndGlyphs">DRIVE</text>
<text x="190" y="458.0" textLength="66" lengthAdjust="spacingAndGlyphs">PENDANT</text>
<text x="190" y="474.0" textLength="45.6" lengthAdjust="spacingAndGlyphs">CABLE</text>
<text x="190" y="580.2" textLength="66" lengthAdjust="spacingAndGlyphs">PENDANT</text>
<text x="190" y="597.0" textLength="70" lengthAdjust="spacingAndGlyphs">(Optional)</text>
<text x="515.3" y="459.5" textLength="34.5" lengthAdjust="spacingAndGlyphs">WIRE</text>
<text x="515.3" y="477.5" textLength="37" lengthAdjust="spacingAndGlyphs">ROPE</text>
<text x="506.5" y="591.0" textLength="41" lengthAdjust="spacingAndGlyphs">HOOK</text>
<text x="506.5" y="607.8" textLength="45" lengthAdjust="spacingAndGlyphs">BLOCK</text>
<text x="556" y="663.8" textLength="60" lengthAdjust="spacingAndGlyphs">RUNWAY</text>
<text x="556" y="680.3" textLength="29" lengthAdjust="spacingAndGlyphs">RAIL</text>
<text x="652.7" y="503.0" textLength="53" lengthAdjust="spacingAndGlyphs">BRIDGE</text>
<text x="652.7" y="519.6" textLength="40.5" lengthAdjust="spacingAndGlyphs">DRIVE</text>
<text x="651.6" y="571.0" textLength="73" lengthAdjust="spacingAndGlyphs">ENDTRUCK</text>
<text x="651.6" y="587.6" textLength="58.5" lengthAdjust="spacingAndGlyphs">BUMPER</text>
<text x="888.5" y="674.0" textLength="52" lengthAdjust="spacingAndGlyphs">BRIDGE</text>
<text x="888.5" y="690.0" textLength="39" lengthAdjust="spacingAndGlyphs">DRIVE</text>
<text x="888.5" y="706.0" textLength="50" lengthAdjust="spacingAndGlyphs">WHEEL</text>
<text x="1021" y="560.0" textLength="30" lengthAdjust="spacingAndGlyphs">END</text>
<text x="1021" y="576.4" textLength="45" lengthAdjust="spacingAndGlyphs">TRUCK</text>
<text x="1132" y="450.6" textLength="53" lengthAdjust="spacingAndGlyphs">BRIDGE</text>
<text x="1132" y="466.8" textLength="39" lengthAdjust="spacingAndGlyphs">IDLER</text>
<text x="1132" y="483.0" textLength="48" lengthAdjust="spacingAndGlyphs">WHEEL</text>
<text x="732" y="790.5" textLength="58.5" lengthAdjust="spacingAndGlyphs">RUNWAY</text>
<text x="732" y="807.5" textLength="41" lengthAdjust="spacingAndGlyphs">BEAM</text>
<line x1="655.0" y1="48.0" x2="542.9" y2="52.6" stroke="#808080" stroke-width="1.9" stroke-linecap="round" />
<polygon points="533.0,53.0 549.3,46.7 544.5,52.5 549.7,57.9" fill="#808080" stroke="none" stroke-width="0" stroke-linejoin="round" />
<line x1="512.0" y1="112.0" x2="486.4" y2="124.2" stroke="#808080" stroke-width="1.9" stroke-linecap="round" />
<polygon points="477.5,128.5 490.0,116.3 487.9,123.5 494.8,126.4" fill="#808080" stroke="none" stroke-width="0" stroke-linejoin="round" />
<line x1="655.0" y1="103.0" x2="527.4" y2="146.8" stroke="#808080" stroke-width="1.9" stroke-linecap="round" />
<polygon points="518.0,150.0 531.8,139.3 528.9,146.3 535.4,149.9" fill="#808080" stroke="none" stroke-width="0" stroke-linejoin="round" />
<line x1="615.0" y1="148.0" x2="471.4" y2="194.0" stroke="#808080" stroke-width="1.9" stroke-linecap="round" />
<polygon points="462.0,197.0 476.0,186.6 473.0,193.5 479.4,197.3" fill="#808080" stroke="none" stroke-width="0" stroke-linejoin="round" />
<line x1="662.0" y1="192.0" x2="572.8" y2="183.0" stroke="#808080" stroke-width="1.9" stroke-linecap="round" />
<polygon points="563.0,182.0 580.0,178.1 574.5,183.2 578.9,189.2" fill="#808080" stroke="none" stroke-width="0" stroke-linejoin="round" />
<line x1="872.0" y1="155.0" x2="787.5" y2="252.5" stroke="#808080" stroke-width="1.9" stroke-linecap="round" />
<polygon points="781.0,260.0 787.6,243.9 788.6,251.3 796.0,251.2" fill="#808080" stroke="none" stroke-width="0" stroke-linejoin="round" />
<line x1="967.0" y1="202.0" x2="888.6" y2="290.6" stroke="#808080" stroke-width="1.9" stroke-linecap="round" />
<polygon points="882.0,298.0 888.7,281.9 889.7,289.4 897.1,289.4" fill="#808080" stroke="none" stroke-width="0" stroke-linejoin="round" />
<line x1="1085.0" y1="239.0" x2="1003.6" y2="329.6" stroke="#808080" stroke-width="1.9" stroke-linecap="round" />
<polygon points="997.0,337.0 1003.9,321.0 1004.7,328.4 1012.2,328.5" fill="#808080" stroke="none" stroke-width="0" stroke-linejoin="round" />
<line x1="68.0" y1="250.0" x2="212.9" y2="187.9" stroke="#808080" stroke-width="1.9" stroke-linecap="round" />
<polygon points="222.0,184.0 209.0,195.6 211.4,188.5 204.6,185.4" fill="#808080" stroke="none" stroke-width="0" stroke-linejoin="round" />
<line x1="63.0" y1="303.0" x2="249.2" y2="209.4" stroke="#808080" stroke-width="1.9" stroke-linecap="round" />
<polygon points="258.0,205.0 245.8,217.4 247.7,210.2 240.7,207.4" fill="#808080" stroke="none" stroke-width="0" stroke-linejoin="round" />
<line x1="168.0" y1="290.0" x2="231.4" y2="253.0" stroke="#808080" stroke-width="1.9" stroke-linecap="round" />
<polygon points="240.0,248.0 228.6,261.2 230.0,253.8 222.9,251.5" fill="#808080" stroke="none" stroke-width="0" stroke-linejoin="round" />
<line x1="202.0" y1="352.0" x2="296.7" y2="290.4" stroke="#808080" stroke-width="1.9" stroke-linecap="round" />
<polygon points="305.0,285.0 294.2,298.7 295.3,291.3 288.1,289.3" fill="#808080" stroke="none" stroke-width="0" stroke-linejoin="round" />
<line x1="335.0" y1="355.0" x2="376.4" y2="249.2" stroke="#808080" stroke-width="1.9" stroke-linecap="round" />
<polygon points="380.0,240.0 379.2,257.4 375.8,250.8 368.8,253.3" fill="#808080" stroke="none" stroke-width="0" stroke-linejoin="round" />
<line x1="228.0" y1="451.8" x2="270.1" y2="452.1" stroke="#808080" stroke-width="1.9" stroke-linecap="round" />
<polygon points="280.0,452.2 263.5,457.7 268.5,452.1 263.5,446.5" fill="#808080" stroke="none" stroke-width="0" stroke-linejoin="round" />
<line x1="228.0" y1="573.0" x2="261.1" y2="573.4" stroke="#808080" stroke-width="1.9" stroke-linecap="round" />
<polygon points="271.0,573.5 254.4,578.9 259.5,573.4 254.6,567.7" fill="#808080" stroke="none" stroke-width="0" stroke-linejoin="round" />
<line x1="495.0" y1="455.0" x2="464.9" y2="455.0" stroke="#808080" stroke-width="1.9" stroke-linecap="round" />
<polygon points="455.0,455.0 471.5,449.4 466.6,455.0 471.5,460.6" fill="#808080" stroke="none" stroke-width="0" stroke-linejoin="round" />
<line x1="482.0" y1="586.0" x2="453.9" y2="586.0" stroke="#808080" stroke-width="1.9" stroke-linecap="round" />
<polygon points="444.0,586.0 460.5,580.4 455.6,586.0 460.5,591.6" fill="#808080" stroke="none" stroke-width="0" stroke-linejoin="round" />
<line x1="575.0" y1="668.0" x2="640.5" y2="686.3" stroke="#808080" stroke-width="1.9" stroke-linecap="round" />
<polygon points="650.0,689.0 632.6,689.9 638.9,685.9 635.6,679.2" fill="#808080" stroke="none" stroke-width="0" stroke-linejoin="round" />
<line x1="683.0" y1="498.4" x2="709.6" y2="498.4" stroke="#808080" stroke-width="1.9" stroke-linecap="round" />
<polygon points="719.5,498.4 703.0,504.0 708.0,498.4 703.0,492.8" fill="#808080" stroke="none" stroke-width="0" stroke-linejoin="round" />
<line x1="699.0" y1="563.6" x2="752.1" y2="563.1" stroke="#808080" stroke-width="1.9" stroke-linecap="round" />
<polygon points="762.0,563.0 745.6,568.8 750.5,563.1 745.4,557.6" fill="#808080" stroke="none" stroke-width="0" stroke-linejoin="round" />
<line x1="882.0" y1="653.0" x2="806.2" y2="559.7" stroke="#808080" stroke-width="1.9" stroke-linecap="round" />
<polygon points="800.0,552.0 814.7,561.3 807.3,561.0 806.1,568.3" fill="#808080" stroke="none" stroke-width="0" stroke-linejoin="round" />
<line x1="1015.6" y1="541.8" x2="951.4" y2="469.9" stroke="#808080" stroke-width="1.9" stroke-linecap="round" />
<polygon points="944.8,462.5 960.0,471.1 952.5,471.1 951.6,478.5" fill="#808080" stroke="none" stroke-width="0" stroke-linejoin="round" />
<line x1="1119.0" y1="432.7" x2="1054.1" y2="368.9" stroke="#808080" stroke-width="1.9" stroke-linecap="round" />
<polygon points="1047.0,362.0 1062.7,369.6 1055.2,370.1 1054.8,377.6" fill="#808080" stroke="none" stroke-width="0" stroke-linejoin="round" />
<line x1="710.0" y1="772.0" x2="678.4" y2="743.6" stroke="#808080" stroke-width="1.9" stroke-linecap="round" />
<polygon points="671.0,737.0 687.0,743.9 679.6,744.7 679.5,752.2" fill="#808080" stroke="none" stroke-width="0" stroke-linejoin="round" />
</g>
</svg>
</body></html>
